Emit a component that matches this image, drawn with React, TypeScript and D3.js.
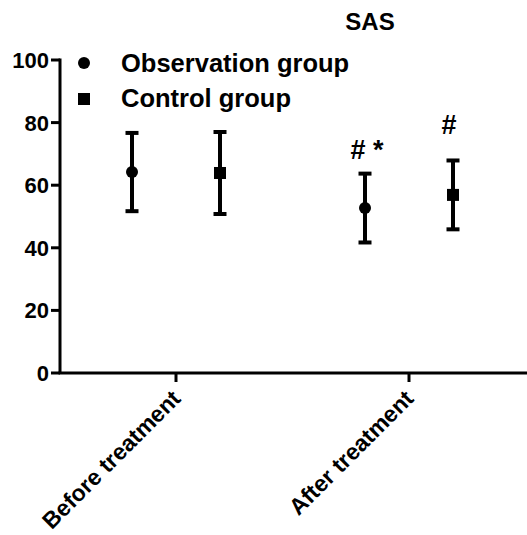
import React from "react";
import * as d3 from "d3";

const categories = ["Before treatment", "After treatment"];
const seriesNames = ["Observation group", "Control group"];
const obsMean = [64.2, 52.7];
const obsSD = [12.5, 11.0];
const ctrlMean = [63.9, 56.9];
const ctrlSD = [13.1, 11.0];
const yTicks = [0, 20, 40, 60, 80, 100];
const obsMarks = ["", "# *"];
const ctrlMarks = ["", "#"];

const W = 527, H = 535;
const left = 60, right = 527, top = 60, bottom = 373;
const font = "'Liberation Sans', Arial, sans-serif";

export default function App() {
  const x = d3.scalePoint<string>().domain(categories).range([176, 409]);
  const y = d3.scaleLinear().domain([0, 100]).range([bottom, top]);
  const off = 44;
  const cap = 6.5;
  const series = [
    { mean: obsMean, sd: obsSD, dx: -off, shape: "circle", marks: obsMarks, mdx: 2, mdy: 15 },
    { mean: ctrlMean, sd: ctrlSD, dx: off, shape: "square", marks: ctrlMarks, mdx: -4, mdy: 26 },
  ];
  return (
    <svg width={W} height={H} style={{ position: "absolute", left: 0, top: 0, background: "#fff" }}
      fontFamily={font} fontWeight="bold">
      <text x={370} y={30} fontSize={24} textAnchor="middle">SAS</text>
      <line x1={left} x2={left} y1={top - 1.5} y2={bottom} stroke="#000" strokeWidth={3} />
      <line x1={left - 1.5} x2={right} y1={bottom} y2={bottom} stroke="#000" strokeWidth={3} />
      {yTicks.map((t) => (
        <g key={t}>
          <line x1={left - 9} x2={left} y1={y(t)} y2={y(t)} stroke="#000" strokeWidth={3} />
          <text x={left - 11} y={y(t)} dy="0.36em" textAnchor="end" fontSize={22}>{t}</text>
        </g>
      ))}
      {categories.map((c) => (
        <g key={c}>
          <line x1={x(c)!} x2={x(c)!} y1={bottom} y2={bottom + 9} stroke="#000" strokeWidth={3} />
          <text transform={`translate(${x(c)! + 6},${bottom + 27}) rotate(-45)`} textAnchor="end" fontSize={23}>{c}</text>
        </g>
      ))}
      {series.map((s, si) =>
        categories.map((c, ci) => {
          const cx = x(c)! + s.dx;
          const m = s.mean[ci];
          const hi = y(m + s.sd[ci]);
          const lo = y(m - s.sd[ci]);
          const cy = y(m);
          return (
            <g key={si + "-" + ci}>
              <line x1={cx} x2={cx} y1={hi} y2={lo} stroke="#000" strokeWidth={4} />
              <line x1={cx - cap} x2={cx + cap} y1={hi} y2={hi} stroke="#000" strokeWidth={4} />
              <line x1={cx - cap} x2={cx + cap} y1={lo} y2={lo} stroke="#000" strokeWidth={4} />
              {s.shape === "circle" ? (
                <circle cx={cx} cy={cy} r={6} fill="#000" />
              ) : (
                <rect x={cx - 6} y={cy - 6} width={12} height={12} fill="#000" />
              )}
              {s.marks[ci] && (
                <text x={cx + s.mdx} y={hi - s.mdy} textAnchor="middle" fontSize={27}>{s.marks[ci]}</text>
              )}
            </g>
          );
        })
      )}
      <circle cx={84} cy={63} r={6} fill="#000" />
      <text x={121} y={72} fontSize={25.5}>{seriesNames[0]}</text>
      <rect x={78} y={93} width={12} height={12} fill="#000" />
      <text x={121} y={107} fontSize={25.5}>{seriesNames[1]}</text>
    </svg>
  );
}
